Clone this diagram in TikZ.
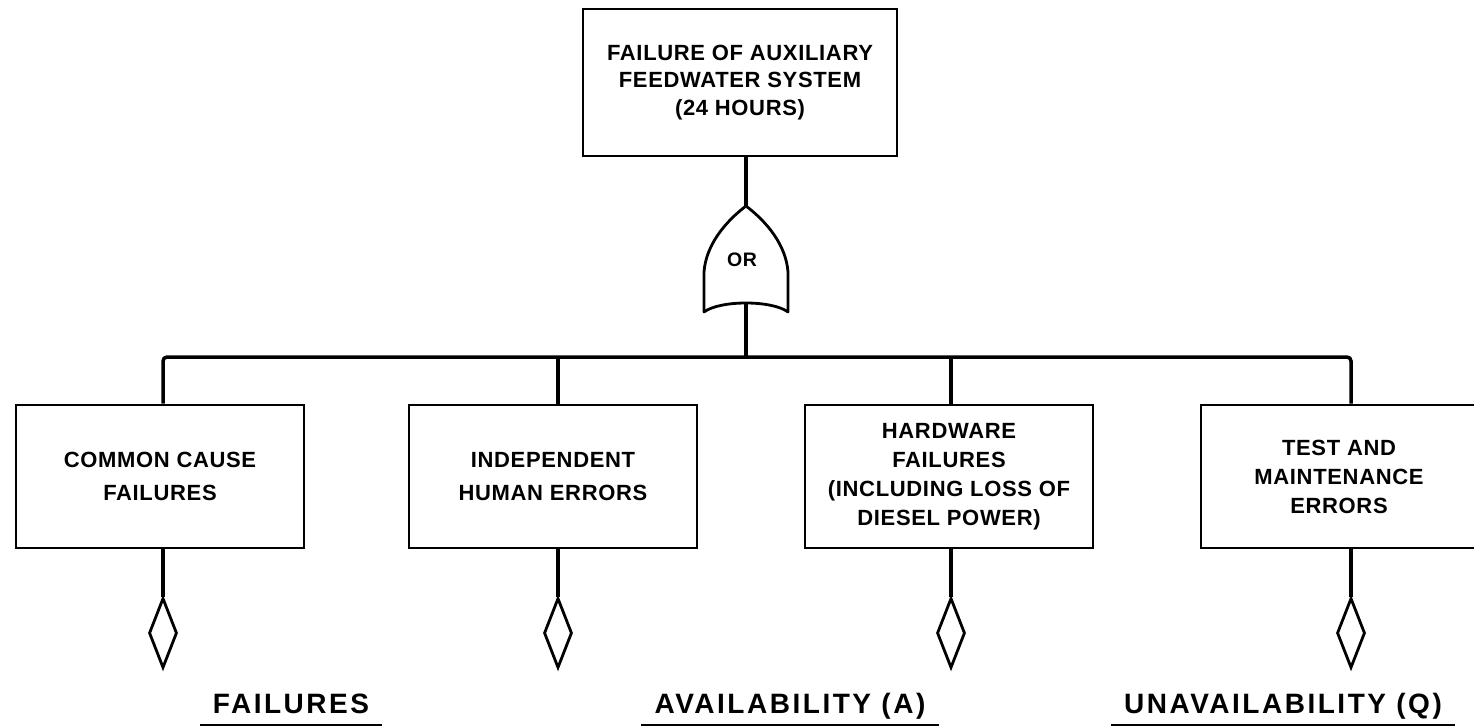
\documentclass[tikz,border=0pt]{standalone}
\usepackage{fontspec}
\setmainfont{Liberation Sans}
\newfontfamily\boxfont{Liberation Sans}[LetterSpace=3]
\newfontfamily\labfont{Liberation Sans}[LetterSpace=9]
\usetikzlibrary{shapes.geometric}

\begin{document}
\begin{tikzpicture}[x=1pt,y=-1pt,
  event/.style={draw, line width=2.8pt, minimum width=288pt, minimum height=143pt,
    inner sep=0pt, align=center, font=\boxfont\bfseries\fontsize{22}{29}\selectfont},
  wide/.style={font=\boxfont\bfseries\fontsize{22}{33}\selectfont},
  topevent/.style={event, minimum width=314pt, minimum height=147pt,
    font=\boxfont\bfseries\fontsize{22}{27.5}\selectfont},
  basic/.style={diamond, draw, line width=2.8pt, minimum width=28pt,
    minimum height=70pt, inner sep=0pt},
  stem/.style={line width=4.5pt},
  bus/.style={line width=3.5pt, rounded corners=4pt},
  gateline/.style={line width=2.8pt, line join=round},
  caption/.style={font=\labfont\bfseries\fontsize{28}{32}\selectfont,
    inner xsep=13pt, inner ysep=0pt, anchor=base},
  underline/.style={line width=1.5pt}
]
\useasboundingbox (0,0) rectangle (1474,727);
\clip (0,0) rectangle (1474,727);

% top event
\node[topevent] (top) at (740,82.5) {FAILURE OF AUXILIARY\\FEEDWATER SYSTEM\\(24 HOURS)};

% OR gate
\coordinate (gtop) at (746,206);
\coordinate (gbot) at (746,303);
\draw[gateline] (gtop) .. controls (725,222) and (706,245) .. (704,272) -- (704,312)
  .. controls (720,300) and (772,300) .. (788,312) -- (788,272)
  .. controls (786,245) and (767,222) .. (gtop) -- cycle;
\node[font=\boxfont\bfseries\fontsize{19.5}{22}\selectfont] (or) at (742,260) {OR};

% intermediate events
\node[event, wide] (b1) at (160,476.5) {COMMON CAUSE\\FAILURES};
\node[event, wide] (b2) at (553,476.5) {INDEPENDENT\\HUMAN ERRORS};
\node[event] (b3) at (949,476.5) {HARDWARE\\FAILURES\\(INCLUDING LOSS OF\\DIESEL POWER)};
\node[event, minimum width=276pt] (b4) at (1339,476.5) {TEST AND\\MAINTENANCE\\ERRORS};

% undeveloped events
\node[basic] (d1) at (163,633) {};
\node[basic] (d2) at (558,633) {};
\node[basic] (d3) at (951,633) {};
\node[basic] (d4) at (1351,633) {};

% connectors
\coordinate (bus) at (746,357);
\draw[stem] (gtop) -- (gtop |- top.south);
\draw[stem] (gbot) -- (gbot |- bus);
\draw[bus] (b1.north -| d1.north) |- (bus) -| (b4.north -| d4.north);
\draw[stem] (b2.north -| d2.north) -- (d2.north |- bus);
\draw[stem] (b3.north -| d3.north) -- (d3.north |- bus);
\foreach \i in {1,2,3,4}{
  \draw[stem] (d\i.north) -- (d\i.north |- b\i.south);
}

% captions
\node[caption] (c1) at (291,713) {FAILURES};
\node[caption] (c2) at (790,713) {AVAILABILITY (A)};
\node[caption] (c3) at (1283,713) {UNAVAILABILITY (Q)};
\foreach \c in {c1,c2,c3}{
  \draw[underline] ([yshift=-12pt]\c.base west) -- ([yshift=-12pt]\c.base east);
}
\end{tikzpicture}
\end{document}
